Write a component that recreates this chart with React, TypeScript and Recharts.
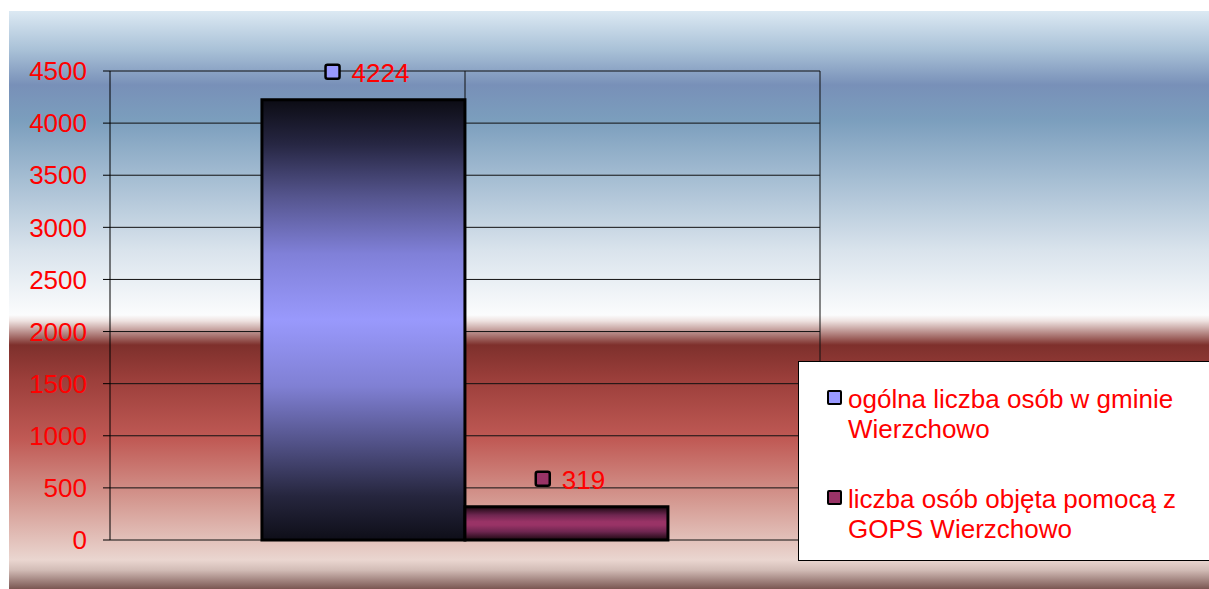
import { BarChart, Bar, XAxis, YAxis, CartesianGrid, Legend, LabelList } from 'recharts';

const categories = [''];
const seriesNames = [
  'ogólna liczba osób w gminie Wierzchowo',
  'liczba osób objęta pomocą z GOPS Wierzchowo',
];
const totalPeople = [4224];
const helpedPeople = [319];
const yTicks = [0, 500, 1000, 1500, 2000, 2500, 3000, 3500, 4000, 4500];

const FONT = '"Liberation Sans", Arial, sans-serif';
const markerColors = ['#9999ff', '#993366'];

const chartData = categories.map((c, i) => ({
  name: c,
  total: totalPeople[i],
  helped: helpedPeople[i],
}));

function makeLabel(color: string) {
  return (props: any) => {
    const { x, y, width, value } = props;
    const txt = String(value);
    const tw = txt.length * 0.556 * 26;
    const groupW = 14 + 12 + tw;
    const start = x + width / 2 + 4 - groupW / 2;
    const cy = y - 28;
    return (
      <g>
        <rect x={start} y={cy - 7} width={14} height={14} rx={2} fill={color} stroke="#000" strokeWidth={2.5} />
        <text x={start + 26} y={cy + 1} fill="#ff0000" fontSize={26} fontFamily={FONT} dominantBaseline="central">
          {txt}
        </text>
      </g>
    );
  };
}

function LegendBox({ payload }: any) {
  const items = [...(payload || [])].sort(
    (a: any, b: any) => seriesNames.indexOf(a.value) - seriesNames.indexOf(b.value)
  );
  return (
    <div
      style={{
        background: '#fff',
        border: '1px solid #000',
        boxSizing: 'border-box',
        width: 430,
        height: 200,
        padding: '22px 0 0 28px',
        fontFamily: FONT,
        fontSize: 26,
        lineHeight: '30px',
        color: '#ff0000',
        textAlign: 'left',
      }}
    >
      {items.map((entry: any, i: number) => (
        <div key={entry.value} style={{ display: 'flex', alignItems: 'flex-start', marginTop: i === 0 ? 0 : 40 }}>
          <span
            style={{
              display: 'inline-block',
              width: 11,
              height: 11,
              marginTop: 6,
              marginRight: 6,
              flex: '0 0 auto',
              background: markerColors[seriesNames.indexOf(entry.value)],
              border: '2px solid #000',
              borderRadius: 2,
            }}
          />
          <span style={{ width: 350 }}>{entry.value}</span>
        </div>
      ))}
    </div>
  );
}

export default function App() {
  return (
    <div
      style={{
        position: 'absolute',
        left: 9,
        top: 11,
        width: 1200,
        height: 578,
        overflow: 'hidden',
        background:
          'linear-gradient(to bottom, #dce9f3 0px, #a9c1d7 39px, #7890b8 74px, #7b9ebd 109px, #a6bed3 169px, #d9e3ec 239px, #fbfcfd 304px, #eee2e0 310px, #7e302c 334px, #9c3f3b 369px, #c05a55 429px, #d49890 489px, #ead6d0 549px, #d2bcb6 559px, #7a5652 578px)',
      }}
    >
      <BarChart
        width={1200}
        height={578}
        data={chartData}
        margin={{ top: 60, right: 389, bottom: 49, left: 0 }}
        barCategoryGap="21.4%"
        barGap={0}
      >
        <defs>
          <linearGradient id="gradTotal" x1="0" y1="0" x2="0" y2="1">
            <stop offset="0" stopColor="#0c0c14" />
            <stop offset="0.1" stopColor="#262642" />
            <stop offset="0.22" stopColor="#55558e" />
            <stop offset="0.35" stopColor="#8080d8" />
            <stop offset="0.5" stopColor="#9999fc" />
            <stop offset="0.65" stopColor="#8080d4" />
            <stop offset="0.78" stopColor="#525288" />
            <stop offset="0.9" stopColor="#26263e" />
            <stop offset="1" stopColor="#0e0e18" />
          </linearGradient>
          <linearGradient id="gradHelped" x1="0" y1="0" x2="0" y2="1">
            <stop offset="0" stopColor="#1a0810" />
            <stop offset="0.25" stopColor="#6e2650" />
            <stop offset="0.45" stopColor="#993366" />
            <stop offset="0.55" stopColor="#993366" />
            <stop offset="0.75" stopColor="#6e2650" />
            <stop offset="1" stopColor="#1a0810" />
          </linearGradient>
        </defs>
        <CartesianGrid
          stroke="#111"
          strokeWidth={1}
          verticalCoordinatesGenerator={({ offset }: any) => [
            offset.left + offset.width / 2,
            offset.left + offset.width,
          ]}
        />
        <XAxis dataKey="name" hide />
        <YAxis
          width={101}
          domain={[0, 4500]}
          ticks={yTicks}
          interval={0}
          tickSize={7}
          tickMargin={16}
          axisLine={{ stroke: '#000', strokeWidth: 1 }}
          tickLine={{ stroke: '#000' }}
          tick={{ fill: '#ff0000', fontSize: 26, fontFamily: FONT }}
        />
        <Legend
          layout="vertical"
          verticalAlign="middle"
          align="center"
          wrapperStyle={{ position: 'absolute', left: 789, top: 350, width: 430 }}
          content={<LegendBox />}
        />
        <Bar dataKey="total" name={seriesNames[0]} fill="url(#gradTotal)" stroke="#000" strokeWidth={3} isAnimationActive={false}>
          <LabelList dataKey="total" content={makeLabel(markerColors[0])} />
        </Bar>
        <Bar dataKey="helped" name={seriesNames[1]} fill="url(#gradHelped)" stroke="#000" strokeWidth={3} isAnimationActive={false}>
          <LabelList dataKey="helped" content={makeLabel(markerColors[1])} />
        </Bar>
      </BarChart>
    </div>
  );
}
